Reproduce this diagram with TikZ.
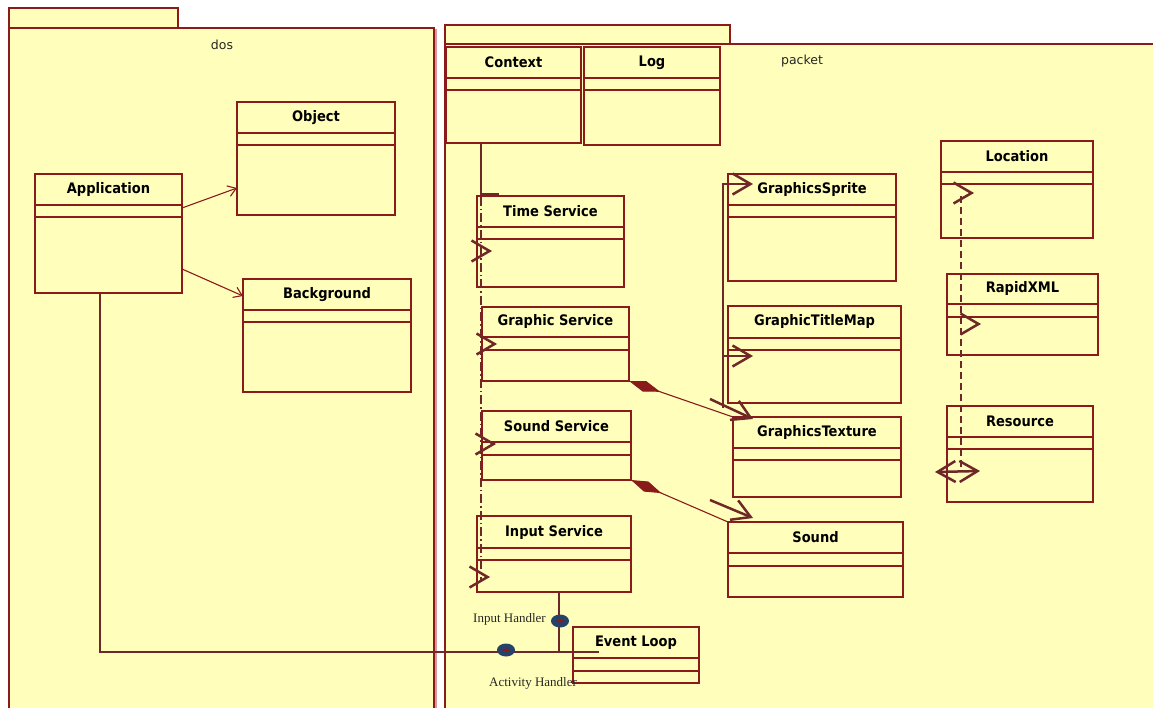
\documentclass[tikz,border=0pt]{standalone}
\usepackage{fontspec}
\setmainfont{DejaVu Sans}
\newfontfamily\clsfont{DejaVu Sans Condensed}
\newfontfamily\lblfont{Liberation Serif}
\usetikzlibrary{arrows.meta,calc,shapes.geometric}
\definecolor{pkg}{RGB}{255,255,187}
\definecolor{bord}{RGB}{139,26,26}
\definecolor{brn}{RGB}{110,40,40}
\definecolor{ballc}{RGB}{38,66,105}
\definecolor{shadowc}{RGB}{220,150,160}
\tikzset{
  pkgst/.style={draw=bord, fill=pkg, line width=1.2pt},
  clsbox/.style={draw=bord, fill=pkg, line width=1.2pt, inner sep=0pt, outer sep=0pt, rectangle},
  clsline/.style={draw=bord, line width=1.2pt},
  clsname/.style={font=\clsfont\fontsize{14.5}{16}\selectfont\bfseries, text=black, inner sep=0pt},
  pkgname/.style={font=\fontsize{12.5}{14}\selectfont, text=black!85, inner sep=0pt},
  lbl/.style={font=\lblfont\fontsize{13}{14}\selectfont, text=black!85, inner sep=0pt},
  thinarr/.style={draw=bord, line width=1.1pt, -{Straight Barb[length=8pt,width=11pt]}},
  conn/.style={draw=brn, line width=2pt},
  bigv/.style={draw=brn, line width=2.5pt, -{Straight Barb[length=18pt,width=21pt]}},
  bigvboth/.style={draw=brn, line width=2.5pt, {Straight Barb[length=18pt,width=21pt]}-{Straight Barb[length=18pt,width=21pt]}},
  compo/.style={draw=bord, line width=1.1pt, {Diamond[length=33pt,width=11pt,fill=bord]}-},
  dashdot/.style={draw=brn, line width=1.6pt, dash pattern=on 9pt off 3pt on 1.5pt off 3pt},
  dashbrn/.style={draw=brn, line width=2pt, dash pattern=on 7pt off 4pt},
  ballst/.style={ellipse, fill=ballc, minimum width=18pt, minimum height=13pt, inner sep=0pt}
}
\newcommand\umlcls[8]{%
  \node[clsbox, minimum width={(#4-#2)*1pt}, minimum height={(#5-#3)*1pt}, anchor=north west] (#1) at (#2,#3) {};
  \draw[clsline] (#2,#6) -- ({#4+1},#6);
  \draw[clsline] (#2,#7) -- ({#4+1},#7);
  \node[clsname] at ({(#2+#4)/2},{(#3+#6)/2}) {#8};}
\begin{document}
\begin{tikzpicture}[x=1pt,y=-1pt]
\useasboundingbox (0,0) rectangle (1153,708);
\clip (0,0) rectangle (1153,708);
\fill[white] (0,0) rectangle (1153,708);
% packages
\draw[pkgst] (9,8) rectangle (178,28);
\draw[pkgst] (9,28) rectangle (434,714);
\draw[shadowc, line width=1.5pt] (436,29) -- (436,714);
\node[pkgname] (dosl) at (222,45) {dos};
\draw[pkgst] (445,25) rectangle (730,44);
\draw[pkgst] (445,44) rectangle (1162,714);
\node[pkgname] (packl) at (802,61) {packet};
% classes
\umlcls{obj}{237}{102}{395}{215}{133}{145}{Object}
\umlcls{app}{35}{174}{182}{293}{205}{217}{Application}
\umlcls{bg}{243}{279}{411}{392}{310}{322}{Background}
\umlcls{ctx}{446}{47}{581}{143}{78}{90}{Context}
\umlcls{log}{584}{47}{720}{145}{78}{90}{Log}
\umlcls{ts}{477}{196}{624}{287}{227}{239}{Time Service}
\umlcls{gs}{482}{307}{629}{381}{337}{350}{Graphic Service}
\umlcls{ss}{482}{411}{631}{480}{442}{455}{Sound Service}
\umlcls{is}{477}{516}{631}{592}{548}{560}{Input Service}
\umlcls{el}{573}{627}{699}{683}{658}{671}{Event Loop}
\umlcls{spr}{728}{174}{896}{281}{205}{217}{GraphicsSprite}
\umlcls{tmap}{728}{306}{901}{403}{338}{350}{GraphicTitleMap}
\umlcls{tex}{733}{417}{901}{497}{448}{460}{GraphicsTexture}
\umlcls{snd}{728}{522}{903}{597}{553}{566}{Sound}
\umlcls{loc}{941}{141}{1093}{238}{172}{184}{Location}
\umlcls{xml}{947}{274}{1098}{355}{304}{317}{RapidXML}
\umlcls{res}{947}{406}{1093}{502}{437}{449}{Resource}
% dos connectors
\draw[thinarr] (app.east |- 0,208) -- (obj.west |- 0,188);
\draw[thinarr] (app.east |- 0,269) -- (bg.west |- 0,296);
\coordinate (elin) at (599,652);
\coordinate (appc) at (100,652);
\coordinate (isc) at (559,652);
\draw[conn] (app.south -| 100,0) -- (appc) -- (elin);
\draw[conn] (is.south -| 559,0) -- (isc);
\node[ballst] (ih) at (560,621) {};
\fill[bord] (ih) ellipse (3.5pt and 1.5pt);
\node[ballst] (ah) at (506,650) {};
\fill[bord] (ah) ellipse (3.5pt and 1.5pt);
\node[lbl, anchor=east] (ihl) at (546,619) {Input Handler};
\node[lbl] (ahl) at (533,683) {Activity Handler};
% context dependency
\draw[brn, line width=1.6pt] (ctx.south -| 481,0) -- (481,194) -- (499,194);
\draw[dashdot] (481,197) -- (481,582);
\draw[bigv] (491,251) -- (492,251);
\draw[bigv] (496,344) -- (497,344);
\draw[bigv] (495,444) -- (496,444);
\draw[bigv] (489,577) -- (490,577);
% graphics group
\draw[brn, line width=2.5pt] (723,183) -- (723,408);
\draw[bigv] (723,184) -- (753,184);
\draw[bigv] (723,356) -- (753,356);
\draw[bigv] (710,399) -- (753,419);
\draw[compo] (gs.south east) -- (tex.north west);
\draw[compo] (ss.south east) -- (snd.north west);
\draw[bigv] (710,500) -- (753,518);
% resource group
\draw[dashbrn] (961,196) -- (961,471);
\draw[bigv] (973,193) -- (974,193);
\draw[bigv] (980,324) -- (981,324);
\draw[bigvboth] (935,472) -- (980,471);
\end{tikzpicture}
\end{document}
